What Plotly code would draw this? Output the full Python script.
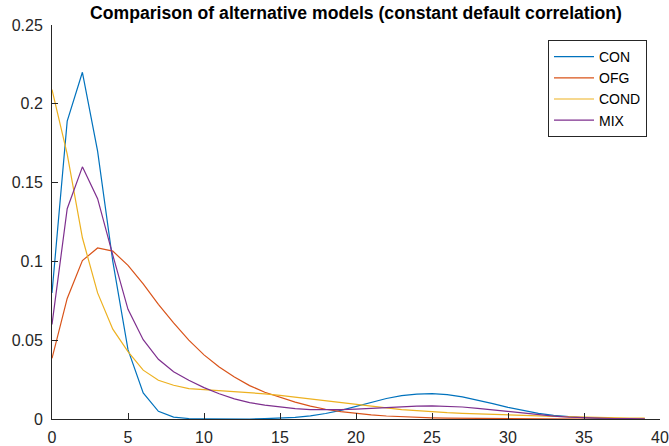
import plotly.graph_objects as go

x_vals = list(range(0, 40))

con = [0.080, 0.189, 0.220, 0.170, 0.100, 0.044, 0.0165, 0.0049, 0.0012, 0.0003,
       0.0001, 0.0, 0.0, 0.0, 0.0002, 0.0005, 0.001, 0.002, 0.0035, 0.0055,
       0.008, 0.0105, 0.013, 0.0148, 0.0158, 0.0161, 0.0155, 0.014, 0.012, 0.0097,
       0.0074, 0.0053, 0.0036, 0.0023, 0.0014, 0.0008, 0.0004, 0.0002, 0.0001, 0.0]

ofg = [0.0385, 0.0765, 0.1005, 0.1085, 0.1065, 0.0975, 0.0857, 0.0728, 0.061, 0.050,
       0.0407, 0.033, 0.0267, 0.0212, 0.017, 0.0138, 0.0107, 0.0082, 0.0062, 0.0047,
       0.0035, 0.0026, 0.0019, 0.0014, 0.001, 0.0007, 0.0005, 0.0004, 0.0003, 0.0002,
       0.0002, 0.0001, 0.0001, 0.0001, 0.0, 0.0, 0.0, 0.0, 0.0, 0.0]

cond = [0.209, 0.168, 0.115, 0.080, 0.057, 0.0427, 0.031, 0.0246, 0.0214, 0.0193,
        0.0186, 0.018, 0.0173, 0.0167, 0.016, 0.015, 0.0138, 0.0126, 0.0114, 0.0102,
        0.009, 0.008, 0.007, 0.006, 0.0052, 0.0045, 0.004, 0.0036, 0.0032, 0.0029,
        0.0026, 0.0023, 0.002, 0.0017, 0.0014, 0.0012, 0.001, 0.0008, 0.0006, 0.0005]

mix = [0.060, 0.1334, 0.160, 0.1398, 0.104, 0.0696, 0.0503, 0.0379, 0.030, 0.0246,
       0.0199, 0.016, 0.0128, 0.0104, 0.0088, 0.0075, 0.0066, 0.006, 0.0058, 0.0059,
       0.0063, 0.0068, 0.0074, 0.0079, 0.0082, 0.0083, 0.0081, 0.0076, 0.0068, 0.0058,
       0.0047, 0.0036, 0.0026, 0.0018, 0.0012, 0.0008, 0.0005, 0.0003, 0.0002, 0.0001]

series_names = ["CON", "OFG", "COND", "MIX"]
series_values = [con, ofg, cond, mix]
colors = ["#0072BD", "#D95319", "#EDB120", "#7E2F8E"]

x_ticks = [0, 5, 10, 15, 20, 25, 30, 35, 40]
y_ticks = [0, 0.05, 0.1, 0.15, 0.2, 0.25]
y_tick_labels = ["0", "0.05", "0.1", "0.15", "0.2", "0.25"]

FONT = "Liberation Sans, Arial, Helvetica, sans-serif"
AX = "#262626"

fig = go.Figure()
for name, vals, c in zip(series_names, series_values, colors):
    fig.add_trace(go.Scatter(x=x_vals, y=vals, mode="lines", name=name,
                             line=dict(color=c, width=1.2)))

fig.update_layout(
    width=669, height=446,
    margin=dict(l=52, r=9, t=25, b=27, autoexpand=False),
    paper_bgcolor="white", plot_bgcolor="white",
    font=dict(family=FONT, size=16, color=AX),
    title=dict(text="<b>Comparison of alternative models (constant default correlation)</b>",
               x=0.5, xref="paper", xanchor="center",
               y=1 - 13 / 446, yref="container", yanchor="middle",
               font=dict(family=FONT, size=17.6, color="#000000")),
    showlegend=True,
    legend=dict(x=(647 - 52) / 608, y=1 - (40 - 25) / 394, xanchor="right", yanchor="top",
                bordercolor=AX, borderwidth=1, bgcolor="white",
                font=dict(family=FONT, size=14, color="#000000"),
                tracegroupgap=0, itemwidth=40,
                entrywidth=55, entrywidthmode="pixels"),
    xaxis=dict(range=[0, 40], tickvals=x_ticks, ticks="inside", ticklen=6,
               showline=True, linecolor=AX, linewidth=1, tickcolor=AX,
               showgrid=False, zeroline=False, mirror=False,
               ticklabelstandoff=4,
               tickfont=dict(size=16, color=AX)),
    yaxis=dict(range=[0, 0.25], tickvals=y_ticks, ticktext=y_tick_labels,
               ticks="inside", ticklen=6,
               showline=True, linecolor=AX, linewidth=1, tickcolor=AX,
               showgrid=False, zeroline=False, mirror=False,
               ticklabelstandoff=5,
               tickfont=dict(size=16, color=AX)),
)

fig.write_html("out.html", config={"displayModeBar": False},
               post_script="document.body.style.margin='0';")
